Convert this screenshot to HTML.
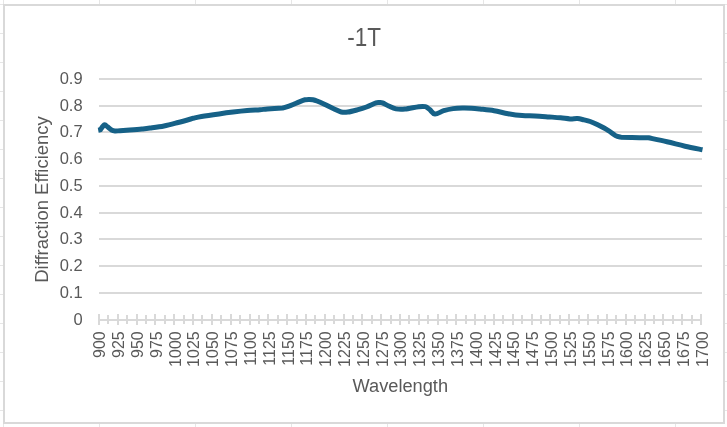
<!DOCTYPE html><html><head><meta charset="utf-8"><style>
html,body{margin:0;padding:0;background:#fff;width:727px;height:427px;overflow:hidden}
svg{display:block;font-family:"Liberation Sans",sans-serif;will-change:transform;-webkit-font-smoothing:antialiased}
</style></head><body>
<svg width="727" height="427" viewBox="0 0 727 427">
<rect x="0" y="0" width="727" height="427" fill="#fff"/>
<rect x="3" y="0" width="1" height="427" fill="#e6e6e6"/>
<rect x="99" y="0" width="1" height="427" fill="#e6e6e6"/>
<rect x="195" y="0" width="1" height="427" fill="#e6e6e6"/>
<rect x="291" y="0" width="1" height="427" fill="#e6e6e6"/>
<rect x="387" y="0" width="1" height="427" fill="#e6e6e6"/>
<rect x="483" y="0" width="1" height="427" fill="#e6e6e6"/>
<rect x="579" y="0" width="1" height="427" fill="#e6e6e6"/>
<rect x="675" y="0" width="1" height="427" fill="#e6e6e6"/>
<rect x="0" y="4" width="727" height="1" fill="#e6e6e6"/>
<rect x="0" y="33" width="727" height="1" fill="#e6e6e6"/>
<rect x="0" y="62" width="727" height="1" fill="#e6e6e6"/>
<rect x="0" y="91" width="727" height="1" fill="#e6e6e6"/>
<rect x="0" y="120" width="727" height="1" fill="#e6e6e6"/>
<rect x="0" y="149" width="727" height="1" fill="#e6e6e6"/>
<rect x="0" y="178" width="727" height="1" fill="#e6e6e6"/>
<rect x="0" y="207" width="727" height="1" fill="#e6e6e6"/>
<rect x="0" y="236" width="727" height="1" fill="#e6e6e6"/>
<rect x="0" y="265" width="727" height="1" fill="#e6e6e6"/>
<rect x="0" y="294" width="727" height="1" fill="#e6e6e6"/>
<rect x="0" y="323" width="727" height="1" fill="#e6e6e6"/>
<rect x="0" y="352" width="727" height="1" fill="#e6e6e6"/>
<rect x="0" y="381" width="727" height="1" fill="#e6e6e6"/>
<rect x="0" y="410" width="727" height="1" fill="#e6e6e6"/>
<rect x="4" y="5" width="720" height="418" fill="#fff" stroke="#d9d9d9" stroke-width="2"/>
<rect x="99" y="292" width="603" height="2" fill="#d9d9d9"/>
<rect x="99" y="265" width="603" height="2" fill="#d9d9d9"/>
<rect x="99" y="238" width="603" height="2" fill="#d9d9d9"/>
<rect x="99" y="212" width="603" height="2" fill="#d9d9d9"/>
<rect x="99" y="185" width="603" height="2" fill="#d9d9d9"/>
<rect x="99" y="158" width="603" height="2" fill="#d9d9d9"/>
<rect x="99" y="131" width="603" height="2" fill="#d9d9d9"/>
<rect x="99" y="105" width="603" height="2" fill="#d9d9d9"/>
<rect x="99" y="78" width="603" height="2" fill="#d9d9d9"/>
<rect x="98" y="319" width="604" height="2" fill="#d9d9d9"/>
<rect x="98" y="314" width="2" height="11" fill="#d9d9d9"/>
<rect x="107" y="315" width="2" height="9" fill="#d9d9d9"/>
<rect x="117" y="314" width="2" height="11" fill="#d9d9d9"/>
<rect x="126" y="315" width="2" height="9" fill="#d9d9d9"/>
<rect x="136" y="314" width="2" height="11" fill="#d9d9d9"/>
<rect x="145" y="315" width="2" height="9" fill="#d9d9d9"/>
<rect x="154" y="314" width="2" height="11" fill="#d9d9d9"/>
<rect x="164" y="315" width="2" height="9" fill="#d9d9d9"/>
<rect x="173" y="314" width="2" height="11" fill="#d9d9d9"/>
<rect x="183" y="315" width="2" height="9" fill="#d9d9d9"/>
<rect x="192" y="314" width="2" height="11" fill="#d9d9d9"/>
<rect x="201" y="315" width="2" height="9" fill="#d9d9d9"/>
<rect x="211" y="314" width="2" height="11" fill="#d9d9d9"/>
<rect x="220" y="315" width="2" height="9" fill="#d9d9d9"/>
<rect x="230" y="314" width="2" height="11" fill="#d9d9d9"/>
<rect x="239" y="315" width="2" height="9" fill="#d9d9d9"/>
<rect x="249" y="314" width="2" height="11" fill="#d9d9d9"/>
<rect x="258" y="315" width="2" height="9" fill="#d9d9d9"/>
<rect x="267" y="314" width="2" height="11" fill="#d9d9d9"/>
<rect x="277" y="315" width="2" height="9" fill="#d9d9d9"/>
<rect x="286" y="314" width="2" height="11" fill="#d9d9d9"/>
<rect x="296" y="315" width="2" height="9" fill="#d9d9d9"/>
<rect x="305" y="314" width="2" height="11" fill="#d9d9d9"/>
<rect x="314" y="315" width="2" height="9" fill="#d9d9d9"/>
<rect x="324" y="314" width="2" height="11" fill="#d9d9d9"/>
<rect x="333" y="315" width="2" height="9" fill="#d9d9d9"/>
<rect x="343" y="314" width="2" height="11" fill="#d9d9d9"/>
<rect x="352" y="315" width="2" height="9" fill="#d9d9d9"/>
<rect x="361" y="314" width="2" height="11" fill="#d9d9d9"/>
<rect x="371" y="315" width="2" height="9" fill="#d9d9d9"/>
<rect x="380" y="314" width="2" height="11" fill="#d9d9d9"/>
<rect x="390" y="315" width="2" height="9" fill="#d9d9d9"/>
<rect x="399" y="314" width="2" height="11" fill="#d9d9d9"/>
<rect x="408" y="315" width="2" height="9" fill="#d9d9d9"/>
<rect x="418" y="314" width="2" height="11" fill="#d9d9d9"/>
<rect x="427" y="315" width="2" height="9" fill="#d9d9d9"/>
<rect x="437" y="314" width="2" height="11" fill="#d9d9d9"/>
<rect x="446" y="315" width="2" height="9" fill="#d9d9d9"/>
<rect x="455" y="314" width="2" height="11" fill="#d9d9d9"/>
<rect x="465" y="315" width="2" height="9" fill="#d9d9d9"/>
<rect x="474" y="314" width="2" height="11" fill="#d9d9d9"/>
<rect x="484" y="315" width="2" height="9" fill="#d9d9d9"/>
<rect x="493" y="314" width="2" height="11" fill="#d9d9d9"/>
<rect x="502" y="315" width="2" height="9" fill="#d9d9d9"/>
<rect x="512" y="314" width="2" height="11" fill="#d9d9d9"/>
<rect x="521" y="315" width="2" height="9" fill="#d9d9d9"/>
<rect x="531" y="314" width="2" height="11" fill="#d9d9d9"/>
<rect x="540" y="315" width="2" height="9" fill="#d9d9d9"/>
<rect x="549" y="314" width="2" height="11" fill="#d9d9d9"/>
<rect x="559" y="315" width="2" height="9" fill="#d9d9d9"/>
<rect x="568" y="314" width="2" height="11" fill="#d9d9d9"/>
<rect x="578" y="315" width="2" height="9" fill="#d9d9d9"/>
<rect x="587" y="314" width="2" height="11" fill="#d9d9d9"/>
<rect x="597" y="315" width="2" height="9" fill="#d9d9d9"/>
<rect x="606" y="314" width="2" height="11" fill="#d9d9d9"/>
<rect x="615" y="315" width="2" height="9" fill="#d9d9d9"/>
<rect x="625" y="314" width="2" height="11" fill="#d9d9d9"/>
<rect x="634" y="315" width="2" height="9" fill="#d9d9d9"/>
<rect x="644" y="314" width="2" height="11" fill="#d9d9d9"/>
<rect x="653" y="315" width="2" height="9" fill="#d9d9d9"/>
<rect x="662" y="314" width="2" height="11" fill="#d9d9d9"/>
<rect x="672" y="315" width="2" height="9" fill="#d9d9d9"/>
<rect x="681" y="314" width="2" height="11" fill="#d9d9d9"/>
<rect x="691" y="315" width="2" height="9" fill="#d9d9d9"/>
<rect x="700" y="314" width="2" height="11" fill="#d9d9d9"/>
<text x="82.6" y="325.00" font-size="16.5" fill="#595959" text-anchor="end">0</text>
<text x="82.6" y="298.00" font-size="16.5" fill="#595959" text-anchor="end">0.1</text>
<text x="82.6" y="271.00" font-size="16.5" fill="#595959" text-anchor="end">0.2</text>
<text x="82.6" y="244.00" font-size="16.5" fill="#595959" text-anchor="end">0.3</text>
<text x="82.6" y="218.00" font-size="16.5" fill="#595959" text-anchor="end">0.4</text>
<text x="82.6" y="191.00" font-size="16.5" fill="#595959" text-anchor="end">0.5</text>
<text x="82.6" y="164.00" font-size="16.5" fill="#595959" text-anchor="end">0.6</text>
<text x="82.6" y="137.00" font-size="16.5" fill="#595959" text-anchor="end">0.7</text>
<text x="82.6" y="111.00" font-size="16.5" fill="#595959" text-anchor="end">0.8</text>
<text x="82.6" y="84.00" font-size="16.5" fill="#595959" text-anchor="end">0.9</text>
<text transform="translate(99.50,331.3) rotate(-90)" x="0" y="5.7" font-size="16" fill="#595959" text-anchor="end">900</text>
<text transform="translate(118.33,331.3) rotate(-90)" x="0" y="5.7" font-size="16" fill="#595959" text-anchor="end">925</text>
<text transform="translate(137.16,331.3) rotate(-90)" x="0" y="5.7" font-size="16" fill="#595959" text-anchor="end">950</text>
<text transform="translate(155.99,331.3) rotate(-90)" x="0" y="5.7" font-size="16" fill="#595959" text-anchor="end">975</text>
<text transform="translate(174.82,331.3) rotate(-90)" x="0" y="5.7" font-size="16" fill="#595959" text-anchor="end">1000</text>
<text transform="translate(193.65,331.3) rotate(-90)" x="0" y="5.7" font-size="16" fill="#595959" text-anchor="end">1025</text>
<text transform="translate(212.48,331.3) rotate(-90)" x="0" y="5.7" font-size="16" fill="#595959" text-anchor="end">1050</text>
<text transform="translate(231.31,331.3) rotate(-90)" x="0" y="5.7" font-size="16" fill="#595959" text-anchor="end">1075</text>
<text transform="translate(250.14,331.3) rotate(-90)" x="0" y="5.7" font-size="16" fill="#595959" text-anchor="end">1100</text>
<text transform="translate(268.97,331.3) rotate(-90)" x="0" y="5.7" font-size="16" fill="#595959" text-anchor="end">1125</text>
<text transform="translate(287.80,331.3) rotate(-90)" x="0" y="5.7" font-size="16" fill="#595959" text-anchor="end">1150</text>
<text transform="translate(306.63,331.3) rotate(-90)" x="0" y="5.7" font-size="16" fill="#595959" text-anchor="end">1175</text>
<text transform="translate(325.46,331.3) rotate(-90)" x="0" y="5.7" font-size="16" fill="#595959" text-anchor="end">1200</text>
<text transform="translate(344.29,331.3) rotate(-90)" x="0" y="5.7" font-size="16" fill="#595959" text-anchor="end">1225</text>
<text transform="translate(363.12,331.3) rotate(-90)" x="0" y="5.7" font-size="16" fill="#595959" text-anchor="end">1250</text>
<text transform="translate(381.95,331.3) rotate(-90)" x="0" y="5.7" font-size="16" fill="#595959" text-anchor="end">1275</text>
<text transform="translate(400.78,331.3) rotate(-90)" x="0" y="5.7" font-size="16" fill="#595959" text-anchor="end">1300</text>
<text transform="translate(419.61,331.3) rotate(-90)" x="0" y="5.7" font-size="16" fill="#595959" text-anchor="end">1325</text>
<text transform="translate(438.44,331.3) rotate(-90)" x="0" y="5.7" font-size="16" fill="#595959" text-anchor="end">1350</text>
<text transform="translate(457.27,331.3) rotate(-90)" x="0" y="5.7" font-size="16" fill="#595959" text-anchor="end">1375</text>
<text transform="translate(476.10,331.3) rotate(-90)" x="0" y="5.7" font-size="16" fill="#595959" text-anchor="end">1400</text>
<text transform="translate(494.93,331.3) rotate(-90)" x="0" y="5.7" font-size="16" fill="#595959" text-anchor="end">1425</text>
<text transform="translate(513.76,331.3) rotate(-90)" x="0" y="5.7" font-size="16" fill="#595959" text-anchor="end">1450</text>
<text transform="translate(532.59,331.3) rotate(-90)" x="0" y="5.7" font-size="16" fill="#595959" text-anchor="end">1475</text>
<text transform="translate(551.42,331.3) rotate(-90)" x="0" y="5.7" font-size="16" fill="#595959" text-anchor="end">1500</text>
<text transform="translate(570.25,331.3) rotate(-90)" x="0" y="5.7" font-size="16" fill="#595959" text-anchor="end">1525</text>
<text transform="translate(589.08,331.3) rotate(-90)" x="0" y="5.7" font-size="16" fill="#595959" text-anchor="end">1550</text>
<text transform="translate(607.91,331.3) rotate(-90)" x="0" y="5.7" font-size="16" fill="#595959" text-anchor="end">1575</text>
<text transform="translate(626.74,331.3) rotate(-90)" x="0" y="5.7" font-size="16" fill="#595959" text-anchor="end">1600</text>
<text transform="translate(645.57,331.3) rotate(-90)" x="0" y="5.7" font-size="16" fill="#595959" text-anchor="end">1625</text>
<text transform="translate(664.40,331.3) rotate(-90)" x="0" y="5.7" font-size="16" fill="#595959" text-anchor="end">1650</text>
<text transform="translate(683.23,331.3) rotate(-90)" x="0" y="5.7" font-size="16" fill="#595959" text-anchor="end">1675</text>
<text transform="translate(702.06,331.3) rotate(-90)" x="0" y="5.7" font-size="16" fill="#595959" text-anchor="end">1700</text>
<text transform="translate(364.2,46) scale(0.9,1)" x="0" y="0" font-size="25" fill="#595959" text-anchor="middle">-1T</text>
<text transform="translate(400.3,391.8) scale(1.024,1)" x="0" y="0" font-size="17.8" fill="#595959" text-anchor="middle">Wavelength</text>
<text transform="translate(48,199.5) rotate(-90) scale(1.038,1)" x="0" y="0" font-size="17.8" fill="#595959" text-anchor="middle">Diffraction Efficiency</text>
<path d="M98.20,130.20 C98.57,130.13 100.03,129.87 100.40,129.80 C101.07,128.98 103.22,125.40 104.40,124.90 C105.58,124.40 106.32,125.95 107.50,126.80 C108.68,127.65 110.25,129.30 111.50,130.00 C112.75,130.70 113.58,130.88 115.00,131.00 C116.42,131.12 117.55,130.87 120.00,130.70 C122.45,130.53 126.05,130.28 129.70,130.00 C133.35,129.72 138.52,129.32 141.90,129.00 C145.28,128.68 146.32,128.60 150.00,128.10 C153.68,127.60 159.32,126.93 164.00,126.00 C168.68,125.07 173.18,123.80 178.10,122.50 C183.02,121.20 190.93,118.92 193.50,118.20 C194.83,117.92 197.23,117.22 201.50,116.50 C205.77,115.78 213.83,114.63 219.10,113.90 C224.37,113.17 228.42,112.65 233.10,112.10 C237.78,111.55 242.72,111.00 247.20,110.60 C251.68,110.20 256.62,109.97 260.00,109.70 C263.38,109.43 263.75,109.27 267.50,109.00 C271.25,108.73 280.00,108.25 282.50,108.10 C283.92,107.63 288.18,106.35 291.00,105.30 C293.82,104.25 297.07,102.72 299.40,101.80 C301.73,100.88 303.40,100.20 305.00,99.80 C306.60,99.40 307.67,99.42 309.00,99.40 C310.33,99.38 311.67,99.43 313.00,99.70 C314.33,99.97 315.10,100.23 317.00,101.00 C318.90,101.77 321.62,103.00 324.40,104.30 C327.18,105.60 330.90,107.52 333.70,108.80 C336.50,110.08 338.85,111.45 341.20,112.00 C343.55,112.55 345.13,112.45 347.80,112.10 C350.47,111.75 354.08,110.75 357.20,109.90 C360.32,109.05 363.37,108.17 366.50,107.00 C369.63,105.83 373.85,103.63 376.00,102.90 C378.15,102.17 378.32,102.60 379.40,102.60 C380.48,102.60 380.95,102.33 382.50,102.90 C384.05,103.47 386.45,105.00 388.70,106.00 C390.95,107.00 393.28,108.38 396.00,108.90 C398.72,109.42 401.22,109.47 405.00,109.10 C408.78,108.73 415.32,107.10 418.70,106.70 C422.08,106.30 423.47,106.22 425.30,106.70 C427.13,107.18 428.08,108.37 429.70,109.60 C431.32,110.83 432.67,113.92 435.00,114.10 C437.33,114.28 440.68,111.62 443.70,110.70 C446.72,109.78 449.97,109.05 453.10,108.60 C456.23,108.15 459.43,108.07 462.50,108.00 C465.57,107.93 468.58,108.03 471.50,108.20 C474.42,108.37 476.23,108.58 480.00,109.00 C483.77,109.42 489.42,109.92 494.10,110.70 C498.78,111.48 503.42,112.88 508.10,113.70 C512.78,114.52 517.72,115.23 522.20,115.60 C526.68,115.97 530.52,115.68 535.00,115.90 C539.48,116.12 544.83,116.58 549.10,116.90 C553.37,117.22 557.12,117.47 560.60,117.80 C564.08,118.13 567.18,118.77 570.00,118.90 C572.82,119.03 575.17,118.43 577.50,118.60 C579.83,118.77 581.88,119.42 584.00,119.90 C586.12,120.38 588.00,120.72 590.20,121.50 C592.40,122.28 594.23,123.13 597.20,124.60 C600.17,126.07 604.95,128.47 608.00,130.30 C611.05,132.13 613.35,134.45 615.50,135.60 C617.65,136.75 620.00,136.93 620.90,137.20 C622.78,137.25 627.60,137.40 632.20,137.50 C636.80,137.60 645.78,137.75 648.50,137.80 C651.58,138.47 660.92,140.40 667.00,141.80 C673.08,143.20 679.08,144.87 685.00,146.20 C690.92,147.53 699.58,149.20 702.50,149.80" fill="none" stroke="#166187" stroke-width="5" stroke-linejoin="round" stroke-linecap="butt"/>
</svg></body></html>
